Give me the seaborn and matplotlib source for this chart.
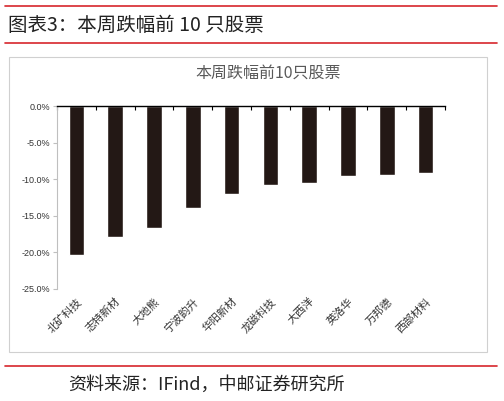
import seaborn as sns
import pandas as pd
import numpy as np
import matplotlib
matplotlib.use('Agg')
from matplotlib import pyplot as plt
from matplotlib.patches import Rectangle
from matplotlib.lines import Line2D
from matplotlib.ticker import FuncFormatter, FixedLocator

stocks = ['北矿科技', '志特新材', '大地熊', '宁波韵升', '华阳新材',
          '龙磁科技', '大西洋', '英洛华', '万邦德', '西部材料']
change = [-20.4, -17.9, -16.6, -14.0, -12.0, -10.8, -10.5, -9.5, -9.4, -9.2]

header = '图表3：本周跌幅前 10 只股票'
chart_title = '本周跌幅前10只股票'
source = '资料来源：IFind，中邮证券研究所'

sns.set_style('white')
plt.rcParams['font.family'] = ['Noto Sans CJK SC', 'DejaVu Sans']

W, H = 504, 401
fig = plt.figure(figsize=(W / 100, H / 100), dpi=100)

def px(x, y):
    # pixel coords (top-left origin) -> figure fraction
    return x / W, 1 - y / H

# red header / footer rules
for yy in [6, 43, 366]:
    x0, y0 = px(5, yy)
    x1, _ = px(497, yy)
    fig.add_artist(Line2D([x0, x1], [y0, y0], color='#d7262c', lw=1.2))

fig.text(*px(8, 25), header, fontsize=14, va='center', ha='left', color='#222222')
fig.text(*px(68, 385), source, fontsize=13, va='center', ha='left', color='#222222')

# gray chart frame
fx, fy = px(9, 352)
fig.add_artist(Rectangle((fx, fy), (487 - 9) / W, (352 - 57) / H,
                         fill=False, edgecolor='#d0d0d0', lw=0.8))
fig.text(*px(268, 73), chart_title, fontsize=11.5, va='center', ha='center', color='#595959')

left, right, top, bottom = 57, 445, 106, 289
ax = fig.add_axes([left / W, 1 - bottom / H, (right - left) / W, (bottom - top) / H])

df = pd.DataFrame({'stock': stocks, 'change': change})
sns.barplot(data=df, x='stock', y='change', color='#231815', saturation=1,
            width=0.4, ax=ax)

ax.set_ylim(-25, 0)
ax.set_xlim(-0.5, len(stocks) - 0.5)
ax.set_yticks(np.arange(-25, 0.1, 5))
ax.yaxis.set_major_formatter(FuncFormatter(lambda v, p: f'{v:.1f}%'))
ax.set_xlabel('')
ax.set_ylabel('')

for s in ['bottom', 'right']:
    ax.spines[s].set_visible(False)
ax.spines['top'].set_color('black')
ax.spines['top'].set_linewidth(1.0)
ax.spines['left'].set_color('#bfbfbf')
ax.spines['left'].set_linewidth(0.8)

ax.tick_params(axis='y', which='major', left=True, length=3, color='#bfbfbf',
               labelsize=6.5, labelcolor='#333333', pad=2)
for lab in ax.get_yticklabels():
    lab.set_fontfamily(['Liberation Sans', 'DejaVu Sans'])

ax.tick_params(axis='x', which='major', bottom=False, top=False, length=0, pad=5)
ax.set_xticks(range(len(stocks)))
ax.set_xticklabels(stocks, rotation=45, ha='right', rotation_mode='anchor',
                   fontsize=7.8, color='#333333')
ax.xaxis.set_minor_locator(FixedLocator(np.arange(-0.5, len(stocks), 1.0)))
ax.tick_params(axis='x', which='minor', bottom=False, top=True, direction='in',
               length=3, width=0.8, color='black')

fig.savefig('out.png', dpi=100)
